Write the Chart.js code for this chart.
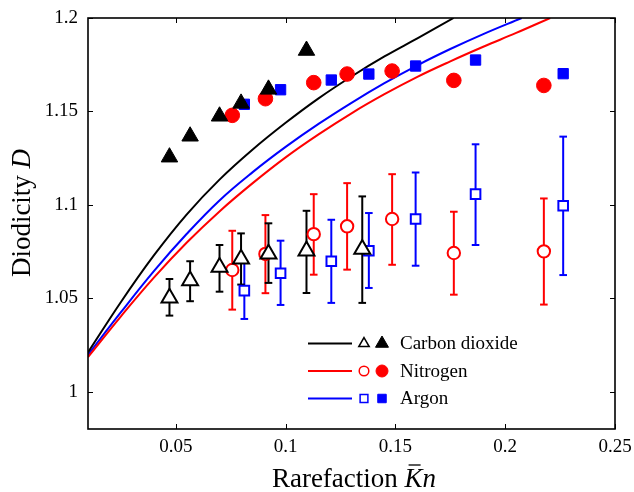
<!DOCTYPE html>
<html>
<head>
<meta charset="utf-8">
<script src="https://cdn.jsdelivr.net/npm/chart.js@4/dist/chart.umd.min.js"></script>
<style>
  body { margin: 0; background: #fff; }
  #wrap { width: 634px; height: 492px; }
</style>
</head>
<body>
<div id="wrap"><canvas id="diodicityChart" width="634" height="492"></canvas></div>
<script>
// rarefaction (Kn) of each measured point
const co2Kn = [0.0471, 0.0565, 0.0699, 0.0797, 0.0922, 0.1095, 0.1349];
const n2Kn = [0.0757, 0.0908, 0.1128, 0.1280, 0.1485, 0.1766, 0.2176];
const arKn = [0.0812, 0.0977, 0.1208, 0.1379, 0.1592, 0.1865, 0.2264];

// measured diodicity (open markers) and error bar ends
const co2Meas = [1.0502, 1.0594, 1.0666, 1.0710, 1.0737, 1.0754, 1.0763];
const co2Hi = [1.0603, 1.0698, 1.0785, 1.0847, 1.0901, 1.0968, 1.1045];
const co2Lo = [1.0407, 1.0484, 1.0535, 1.0573, 1.0582, 1.0528, 1.0475];

const n2Meas = [1.0651, 1.0737, 1.0843, 1.0885, 1.0924, 1.0742, 1.0751];
const n2Hi = [1.0861, 1.0945, 1.1057, 1.1116, 1.1164, 1.0963, 1.1034];
const n2Lo = [1.0439, 1.0527, 1.0626, 1.0653, 1.0679, 1.0519, 1.0466];

const arMeas = [1.0541, 1.0634, 1.0698, 1.0754, 1.0924, 1.1057, 1.0995];
const arHi = [1.0696, 1.0808, 1.0920, 1.0956, 1.1173, 1.1324, 1.1365];
const arLo = [1.0389, 1.0464, 1.0475, 1.0555, 1.0674, 1.0785, 1.0624];

// filled markers (last CO2 one is above the axis, so only 6)
const co2Filled = [1.1255, 1.1367, 1.1474, 1.1543, 1.1618, 1.1826];
const n2Filled = [1.1479, 1.1568, 1.1654, 1.1700, 1.1716, 1.1666, 1.1639];
const arFilled = [1.1538, 1.1616, 1.1668, 1.1700, 1.1743, 1.1775, 1.1702];

// model curves
const co2CurveKn = [0.01, 0.025, 0.04, 0.055, 0.07, 0.085, 0.10, 0.115, 0.13, 0.145, 0.16, 0.1765];
const co2CurveD = [1.021, 1.048, 1.0729, 1.0949, 1.1136, 1.1296, 1.1439, 1.157, 1.1687, 1.1794, 1.1891, 1.200];
const n2CurveKn = [0.01, 0.025, 0.04, 0.055, 0.07, 0.085, 0.10, 0.115, 0.13, 0.145, 0.16, 0.175, 0.19, 0.205, 0.2205];
const n2CurveD = [1.0185, 1.0403, 1.061, 1.0798, 1.0966, 1.1116, 1.1254, 1.1377, 1.149, 1.1592, 1.1685, 1.1768, 1.1846, 1.192, 1.200];
const arCurveKn = [0.01, 0.025, 0.04, 0.055, 0.07, 0.085, 0.10, 0.115, 0.13, 0.145, 0.16, 0.175, 0.19, 0.2075];
const arCurveD = [1.0197, 1.0425, 1.0645, 1.0845, 1.1025, 1.1175, 1.131, 1.1433, 1.1546, 1.1651, 1.1747, 1.1834, 1.1914, 1.200];

const xTicks = [0.05, 0.1, 0.15, 0.2, 0.25];
const xTickLabels = ['0.05', '0.1', '0.15', '0.2', '0.25'];
const yTicks = [1, 1.05, 1.1, 1.15, 1.2];
const yTickLabels = ['1', '1.05', '1.1', '1.15', '1.2'];

const gasNames = ['Carbon dioxide', 'Nitrogen', 'Argon'];
const gasColors = ['#000000', '#ff0000', '#0000ff'];
const gasStyles = ['triangle', 'circle', 'rect'];

const serif = "'Liberation Serif', 'Times New Roman', serif";

function pts(xs, ys) {
  return ys.map((y, i) => ({ x: xs[i], y: y }));
}

// error bars as broken line segments: lo, hi, gap
function bars(xs, lo, hi) {
  const out = [];
  xs.forEach((x, i) => {
    out.push({ x: x, y: lo[i] }, { x: x, y: hi[i] }, { x: x, y: null });
  });
  return out;
}

function curveSet(xs, ys, color) {
  return {
    data: pts(xs, ys), showLine: true, borderColor: color, borderWidth: 2,
    pointRadius: 0, tension: 0.4, order: 4
  };
}

function barSet(xs, lo, hi, color) {
  return {
    data: bars(xs, lo, hi), showLine: true, spanGaps: false, borderColor: color,
    borderWidth: 2, pointStyle: 'line', pointRadius: 3.8, pointBorderWidth: 2,
    pointBorderColor: color, order: 3
  };
}

function openSet(xs, ys, color, style, r) {
  return {
    data: pts(xs, ys), pointStyle: style, pointRadius: r, pointBorderWidth: 2,
    pointBorderColor: color, pointBackgroundColor: '#ffffff', order: 2
  };
}

function filledSet(xs, ys, color, style, r) {
  return {
    data: pts(xs, ys), pointStyle: style, pointRadius: r, pointBorderWidth: 1,
    pointBorderColor: color, pointBackgroundColor: color, order: 1
  };
}

function drawMarker(ctx, style, x, y, r, filled, color) {
  ctx.beginPath();
  if (style === 'triangle') {
    for (let k = 0; k < 3; k++) {
      const a = k * 2 * Math.PI / 3;
      const px = x + Math.sin(a) * r, py = y - Math.cos(a) * r;
      if (k === 0) ctx.moveTo(px, py); else ctx.lineTo(px, py);
    }
    ctx.closePath();
  } else if (style === 'circle') {
    ctx.arc(x, y, r, 0, 2 * Math.PI);
  } else {
    const s = r * Math.SQRT1_2;
    ctx.rect(x - s, y - s, 2 * s, 2 * s);
  }
  ctx.fillStyle = filled ? color : '#ffffff';
  ctx.strokeStyle = color;
  ctx.lineWidth = filled ? 1 : 1.5;
  ctx.fill();
  ctx.stroke();
}

const frameAndLabels = {
  id: 'frameAndLabels',
  afterDraw(chart) {
    const { ctx, chartArea: a, scales: { x, y } } = chart;
    ctx.save();
    ctx.strokeStyle = '#000';
    ctx.lineWidth = 1;
    const t = 5;
    xTicks.forEach(v => {
      const px = Math.round(x.getPixelForValue(v)) + 0.5;
      ctx.beginPath();
      ctx.moveTo(px, a.bottom); ctx.lineTo(px, a.bottom - t);
      ctx.moveTo(px, a.top); ctx.lineTo(px, a.top + t);
      ctx.stroke();
    });
    yTicks.forEach(v => {
      const py = Math.round(y.getPixelForValue(v)) + 0.5;
      ctx.beginPath();
      ctx.moveTo(a.left, py); ctx.lineTo(a.left + t, py);
      ctx.moveTo(a.right, py); ctx.lineTo(a.right - t, py);
      ctx.stroke();
    });
    ctx.lineWidth = 1.6;
    ctx.strokeRect(a.left, a.top, a.right - a.left, a.bottom - a.top);

    // legend
    const lx = 308, ly = 343.5, dy = 27.5;
    gasNames.forEach((name, i) => {
      const yy = ly + i * dy;
      ctx.beginPath();
      ctx.strokeStyle = gasColors[i];
      ctx.lineWidth = 2;
      ctx.moveTo(lx, yy); ctx.lineTo(lx + 44, yy);
      ctx.stroke();
      const rs = gasStyles[i] === 'triangle' ? [6, 7.5] : gasStyles[i] === 'circle' ? [4.8, 6] : [5.5, 6];
      drawMarker(ctx, gasStyles[i], lx + 56, yy, rs[0], false, gasColors[i]);
      drawMarker(ctx, gasStyles[i], lx + 74, yy, rs[1], true, gasColors[i]);
      ctx.fillStyle = '#000';
      ctx.font = '19px ' + serif;
      ctx.textBaseline = 'middle';
      ctx.textAlign = 'left';
      ctx.fillText(name, lx + 92, yy + 1);
    });

    // x axis title: Rarefaction Kn (bar over K)
    ctx.fillStyle = '#000';
    ctx.textBaseline = 'alphabetic';
    ctx.textAlign = 'left';
    const fs = 27;
    ctx.font = fs + 'px ' + serif;
    const word = 'Rarefaction ';
    const w1 = ctx.measureText(word).width;
    ctx.font = 'italic ' + fs + 'px ' + serif;
    const wK = ctx.measureText('K').width;
    const wn = ctx.measureText('n').width;
    const total = w1 + wK + wn;
    const x0 = 354 - total / 2, base = 487;
    ctx.font = fs + 'px ' + serif;
    ctx.fillText(word, x0, base);
    ctx.font = 'italic ' + fs + 'px ' + serif;
    ctx.fillText('K', x0 + w1, base);
    ctx.fillText('n', x0 + w1 + wK, base);
    ctx.beginPath();
    ctx.lineWidth = 1.3;
    ctx.strokeStyle = '#000';
    ctx.moveTo(x0 + w1 + 4, base - 22);
    ctx.lineTo(x0 + w1 + wK - 2, base - 22);
    ctx.stroke();

    // y axis title: Diodicity D
    ctx.save();
    ctx.translate(30, 213);
    ctx.rotate(-Math.PI / 2);
    ctx.font = fs + 'px ' + serif;
    const yw1 = ctx.measureText('Diodicity ').width;
    ctx.font = 'italic ' + fs + 'px ' + serif;
    const ywD = ctx.measureText('D').width;
    const y0 = -(yw1 + ywD) / 2;
    ctx.font = fs + 'px ' + serif;
    ctx.fillText('Diodicity ', y0, 0);
    ctx.font = 'italic ' + fs + 'px ' + serif;
    ctx.fillText('D', y0 + yw1, 0);
    ctx.restore();
    ctx.restore();
  }
};

const ctx = document.getElementById('diodicityChart').getContext('2d');
new Chart(ctx, {
  type: 'scatter',
  data: {
    datasets: [
      curveSet(co2CurveKn, co2CurveD, gasColors[0]),
      curveSet(n2CurveKn, n2CurveD, gasColors[1]),
      curveSet(arCurveKn, arCurveD, gasColors[2]),
      barSet(co2Kn, co2Lo, co2Hi, gasColors[0]),
      barSet(n2Kn, n2Lo, n2Hi, gasColors[1]),
      barSet(arKn, arLo, arHi, gasColors[2]),
      openSet(co2Kn, co2Meas, gasColors[0], 'triangle', 9.2),
      openSet(n2Kn, n2Meas, gasColors[1], 'circle', 6.2),
      openSet(arKn, arMeas, gasColors[2], 'rect', 6.8),
      filledSet(co2Kn.slice(0, co2Filled.length), co2Filled, gasColors[0], 'triangle', 9.5),
      filledSet(n2Kn, n2Filled, gasColors[1], 'circle', 7.3),
      filledSet(arKn, arFilled, gasColors[2], 'rect', 7.3)
    ]
  },
  options: {
    responsive: false,
    animation: false,
    events: [],
    layout: { padding: { left: 0, right: 19, top: 18, bottom: 0 } },
    plugins: { legend: { display: false }, tooltip: { enabled: false } },
    scales: {
      x: {
        type: 'linear', min: 0.01, max: 0.25,
        grid: { display: false, drawTicks: false },
        border: { display: false },
        afterBuildTicks: s => { s.ticks = xTicks.map(v => ({ value: v })); },
        afterFit: s => { s.height = 63; s.paddingLeft = 0; s.paddingRight = 0; },
        ticks: {
          padding: 7, color: '#000', maxRotation: 0, autoSkip: false,
          font: { family: serif, size: 19 },
          callback: (v, i) => xTickLabels[i]
        }
      },
      y: {
        type: 'linear', min: 0.98, max: 1.2,
        grid: { display: false, drawTicks: false },
        border: { display: false },
        afterBuildTicks: s => { s.ticks = yTicks.map(v => ({ value: v })); },
        afterFit: s => { s.width = 88; s.paddingTop = 0; s.paddingBottom = 0; },
        ticks: {
          padding: 10, color: '#000', autoSkip: false,
          font: { family: serif, size: 19 },
          callback: (v, i) => yTickLabels[i]
        }
      }
    }
  },
  plugins: [frameAndLabels]
});
</script>
</body>
</html>
